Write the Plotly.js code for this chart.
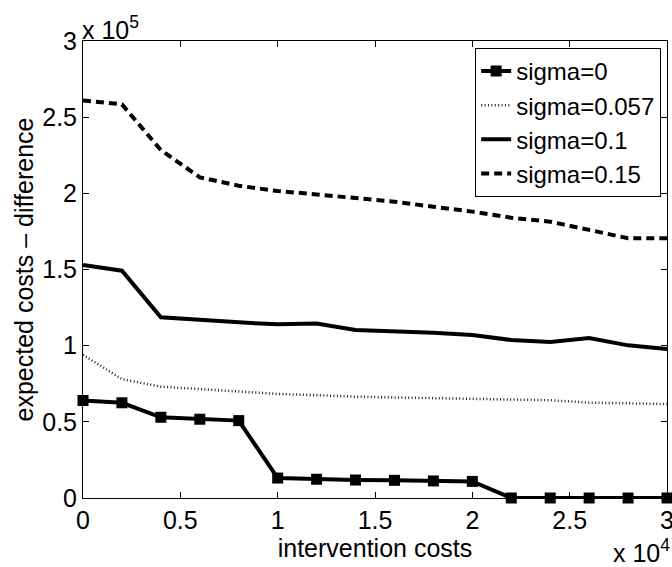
<!DOCTYPE html>
<html>
<head>
<meta charset="utf-8">
<script src="https://cdn.plot.ly/plotly-3.0.1.min.js"></script>
<style>
html,body{margin:0;padding:0;background:#fff;}
#chart{width:672px;height:567px;}
</style>
</head>
<body>
<div id="chart"></div>
<script>
// Data
const interventionCosts = [0,2000,4000,6000,8000,10000,12000,14000,16000,18000,20000,22000,24000,26000,28000,30000];
const sigma0    = [64000,62500,53000,51700,50800,13100,12300,11800,11600,11200,10900,0,0,0,0,0];
const sigma0057 = [94000,78000,73100,71500,69500,68300,67500,66500,66000,65500,64800,64500,64200,62600,62000,61700];
const sigma01   = [153000,149200,118600,116800,115300,114000,114500,110300,109500,108500,107000,103700,102400,105000,100200,97800];
const sigma015  = [261000,258400,228400,210500,205000,201500,199300,197000,194500,191200,188000,184000,181400,176000,170500,170500];
const seriesNames = ['sigma=0','sigma=0.057','sigma=0.1','sigma=0.15'];
const xTickVals = [0,5000,10000,15000,20000,25000,30000];
const xTickText = ['0','0.5','1','1.5','2','2.5','3'];
const yTickVals = [0,50000,100000,150000,200000,250000,300000];
const yTickText = ['0','0.5','1','1.5','2','2.5','3'];

const FONT = 'Liberation Sans, Arial, Helvetica, sans-serif';

const traces = [
  {x: interventionCosts, y: sigma0, name: seriesNames[0], mode: 'lines+markers',
   line: {color: '#000', width: 4}, marker: {symbol: 'square', size: 11, color: '#000'}, cliponaxis: false},
  {x: interventionCosts, y: sigma0057, name: seriesNames[1], mode: 'lines',
   line: {color: '#222', width: 2.5, dash: '1px,2.4px'}},
  {x: interventionCosts, y: sigma01, name: seriesNames[2], mode: 'lines',
   line: {color: '#000', width: 4}},
  {x: interventionCosts, y: sigma015, name: seriesNames[3], mode: 'lines',
   line: {color: '#000', width: 4, dash: '8px,5px'}}
];

const axisCommon = {
  showline: true, linecolor: '#000', linewidth: 1, mirror: 'ticks',
  ticks: 'inside', ticklen: 6, tickwidth: 1, tickcolor: '#000',
  showgrid: false, zeroline: false, ticklabeloverflow: 'allow',
  tickfont: {family: FONT, size: 25, color: '#000'}
};

const layout = {
  width: 672, height: 567,
  margin: {l: 83, r: 5, t: 41, b: 69},
  paper_bgcolor: '#fff', plot_bgcolor: '#fff',
  font: {family: FONT, color: '#000'},
  showlegend: true,
  legend: {
    x: 0.99, y: 0.985, xanchor: 'right', yanchor: 'top',
    bgcolor: '#fff', bordercolor: '#000', borderwidth: 1,
    font: {family: FONT, size: 24, color: '#000'},
    tracegroupgap: 0, itemwidth: 30
  },
  xaxis: Object.assign({}, axisCommon, {
    range: [0, 30000], tickvals: xTickVals, ticktext: xTickText,
    title: {text: 'intervention costs', font: {family: FONT, size: 25, color: '#000'}, standoff: 0}
  }),
  yaxis: Object.assign({}, axisCommon, {
    range: [0, 300000], tickvals: yTickVals, ticktext: yTickText,
    title: {text: 'expected costs \u2013 difference', font: {family: FONT, size: 25, color: '#000'}, standoff: 1}
  }),
  annotations: [
    {xref: 'paper', yref: 'paper', x: 0, y: 1, xanchor: 'left', yanchor: 'bottom',
     text: 'x 10<sup>5</sup>', showarrow: false, yshift: -5, xshift: -3,
     font: {family: FONT, size: 25, color: '#000'}},
    {xref: 'paper', yref: 'paper', x: 1, y: 0, xanchor: 'right', yanchor: 'top',
     text: 'x 10<sup>4</sup>', showarrow: false, yshift: -35, xshift: 5,
     font: {family: FONT, size: 25, color: '#000'}}
  ]
};

Plotly.newPlot('chart', traces, layout, {displayModeBar: false, staticPlot: true});
</script>
</body>
</html>
